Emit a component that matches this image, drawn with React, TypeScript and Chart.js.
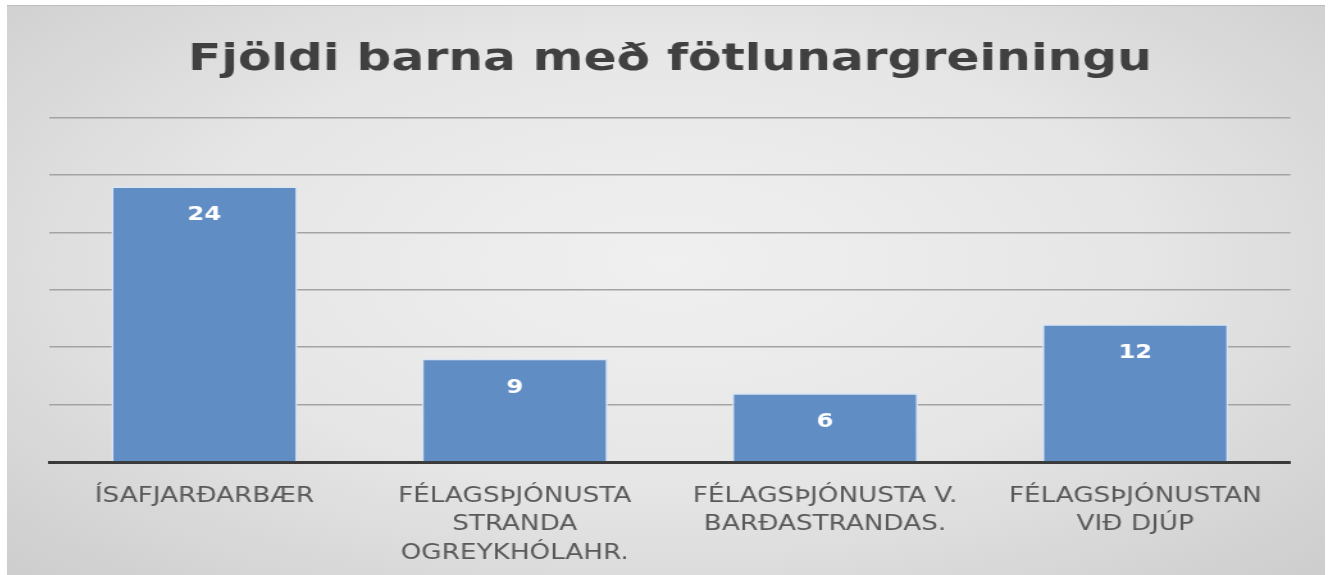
import React, { useEffect, useRef } from "react";
import { Chart, registerables } from "chart.js";

Chart.register(...registerables);

const chartTitle = "Fjöldi barna með fötlunargreiningu";
const categories: (string | string[])[] = [
  "ÍSAFJARÐARBÆR",
  ["FÉLAGSÞJÓNUSTA", "STRANDA", "OGREYKHÓLAHR."],
  ["FÉLAGSÞJÓNUSTA V.", "BARÐASTRANDAS."],
  ["FÉLAGSÞJÓNUSTAN", "VIÐ DJÚP"],
];
const values = [24, 9, 6, 12];
const yMin = 0;
const yMax = 30;
const yStep = 5;

// the reference picture is stretched horizontally
const STRETCH = 1.28;
const BOX_W = 1318;
const BOX_H = 570;

const barLabelPlugin = {
  id: "barLabels",
  afterDatasetsDraw(chart: any) {
    const ctx = chart.ctx;
    const meta = chart.getDatasetMeta(0);
    ctx.save();
    ctx.fillStyle = "#ffffff";
    ctx.font = "bold 19px 'DejaVu Sans'";
    ctx.textAlign = "center";
    ctx.textBaseline = "middle";
    meta.data.forEach((bar: any, i: number) => {
      ctx.fillText(String(values[i]), bar.x, bar.y + 29);
    });
    ctx.restore();
  },
};

export default function App() {
  const ref = useRef<HTMLCanvasElement | null>(null);
  useEffect(() => {
    if (!ref.current) return;
    const chart = new Chart(ref.current, {
      type: "bar",
      data: {
        labels: categories,
        datasets: [
          {
            data: values,
            backgroundColor: "#608dc4",
            borderColor: "#d9e5f3",
            borderWidth: 1.6,
            categoryPercentage: 1,
            barPercentage: 0.6,
          },
        ],
      },
      options: {
        animation: false,
        responsive: true,
        maintainAspectRatio: false,
        layout: { padding: { left: 33, right: 28, top: 0, bottom: 0 } },
        plugins: {
          legend: { display: false },
          tooltip: { enabled: false },
          title: {
            display: true,
            text: chartTitle,
            color: "#404040",
            font: { family: "'DejaVu Sans'", size: 38, weight: "bold", lineHeight: 1.2 },
            padding: { top: 31, bottom: 35 },
          },
        },
        scales: {
          x: {
            grid: { display: false, drawTicks: false },
            border: { display: true, color: "#3a3a3a", width: 3 },
            ticks: {
              color: "#595959",
              font: { family: "'DejaVu Sans'", size: 20.5, lineHeight: 1.39 },
              padding: 20,
              maxRotation: 0,
              autoSkip: false,
            },
            afterFit(scale: any) {
              scale.height = 114;
            },
          },
          y: {
            min: yMin,
            max: yMax,
            ticks: { display: false, stepSize: yStep },
            grid: { color: "#a3a3a3", lineWidth: 1.5, drawTicks: false },
            border: { display: false },
          },
        },
      },
      plugins: [barLabelPlugin],
    });
    return () => chart.destroy();
  }, []);

  return (
    <div
      style={{
        position: "absolute",
        left: 7,
        top: 5,
        width: BOX_W,
        height: BOX_H,
        overflow: "hidden",
        background:
          "radial-gradient(ellipse at 50% 45%, #f0f0f0 0%, #e6e6e6 50%, #cdcdcd 100%)",
        borderTop: "1px solid #bdbdbd",
        boxSizing: "border-box",
      }}
    >
      <div
        style={{
          position: "absolute",
          left: 0,
          top: 0,
          width: BOX_W / STRETCH,
          height: BOX_H,
          transform: `scaleX(${STRETCH})`,
          transformOrigin: "left top",
        }}
      >
        <canvas ref={ref} style={{ width: "100%", height: "100%" }} />
      </div>
    </div>
  );
}
